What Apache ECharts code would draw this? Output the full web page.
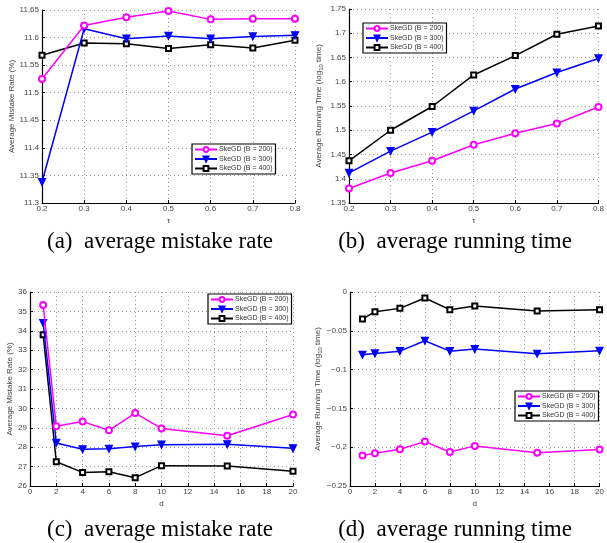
<!DOCTYPE html>
<html>
<head>
<meta charset="utf-8">
<script src="https://cdn.jsdelivr.net/npm/echarts@6/dist/echarts.min.js"></script>
<style>
html,body{margin:0;padding:0;background:#fff;}
#c{width:607px;height:543px;}
</style>
</head>
<body>
<div id="c"></div>
<script>
// ---- data ----
var seriesNames = ['SkeGD (B = 200)', 'SkeGD (B = 300)', 'SkeGD (B = 400)'];
var tauValues = [0.2, 0.3, 0.4, 0.5, 0.6, 0.7, 0.8];
var dValues = [1, 2, 4, 6, 8, 10, 15, 20];

// (a) average mistake rate vs tau
var mistakeTauB200 = [11.525, 11.622, 11.637, 11.648, 11.633, 11.634, 11.634];
var mistakeTauB300 = [11.338, 11.616, 11.598, 11.603, 11.598, 11.602, 11.604];
var mistakeTauB400 = [11.568, 11.590, 11.589, 11.580, 11.587, 11.581, 11.595];

// (b) average running time vs tau
var timeTauB200 = [1.380, 1.412, 1.437, 1.470, 1.494, 1.514, 1.548];
var timeTauB300 = [1.412, 1.457, 1.496, 1.540, 1.585, 1.619, 1.648];
var timeTauB400 = [1.437, 1.500, 1.549, 1.614, 1.654, 1.698, 1.715];

// (c) average mistake rate vs d
var mistakeDB200 = [35.33, 29.08, 29.32, 28.87, 29.76, 28.97, 28.59, 29.69];
var mistakeDB300 = [34.40, 28.22, 27.89, 27.92, 28.03, 28.13, 28.15, 27.94];
var mistakeDB400 = [33.80, 27.25, 26.70, 26.74, 26.43, 27.05, 27.03, 26.76];

// (d) average running time vs d
var timeDB200 = [-0.2108, -0.2078, -0.2027, -0.1928, -0.2061, -0.1983, -0.2070, -0.2031];
var timeDB300 = [-0.0809, -0.0792, -0.0762, -0.0628, -0.0762, -0.0736, -0.0796, -0.0757];
var timeDB400 = [-0.0349, -0.0254, -0.0211, -0.0077, -0.0228, -0.0181, -0.0245, -0.0228];

var captions = ['(a)  average mistake rate', '(b)  average running time', '(c)  average mistake rate', '(d)  average running time'];
var yNames = ['Average Mistake Rate (%)', 'Average Running Time (log{s|10} time)', 'Average Mistake Rate (%)', 'Average Running Time (log{s|10} time)'];
var xNames = ['\u03c4', '\u03c4', 'd', 'd'];

// ---- chart ----
var chart = echarts.init(document.getElementById('c'), null, {renderer: 'canvas'});
var FONT = 'Liberation Sans, Arial, sans-serif';
var colors = ['#ff00ff', '#0000ff', '#000000'];

function zip(xs, ys) { return xs.map(function (x, i) { return [x, ys[i]]; }); }
function fmt(dec) {
  return function (v) { return String(+(+v).toFixed(dec)).replace('-', '\u2212'); };
}

var grids = [
  {left: 42, top: 10, width: 253, height: 193},
  {left: 349, top: 9, width: 255, height: 194},
  {left: 30, top: 292, width: 263, height: 194},
  {left: 350, top: 292, width: 250, height: 194}
];
var xRanges = [[0.2, 0.8, 0.1, 1], [0.2, 0.8, 0.1, 1], [0, 20, 2, 0], [0, 20, 2, 0]];
var yRanges = [[11.3, 11.65, 0.05, 2], [1.35, 1.75, 0.05, 2], [26, 36, 1, 0], [-0.25, 0, 0.05, 2]];
var yGaps = [25, 25, 16, 26];

var xAxes = [], yAxes = [];
for (var i = 0; i < 4; i++) {
  var common = {
    axisLine: {show: true, onZero: false, lineStyle: {color: '#000', width: 1.2}},
    axisTick: {show: true, inside: true, length: 3, lineStyle: {color: '#000'}},
    splitLine: {show: true, lineStyle: {color: '#999', type: [1, 3], width: 1}},
    nameTextStyle: {fontFamily: FONT, fontSize: 8, color: '#444'}
  };
  xAxes.push(Object.assign({}, common, {
    gridIndex: i, type: 'value', min: xRanges[i][0], max: xRanges[i][1], interval: xRanges[i][2],
    name: xNames[i], nameLocation: 'middle', nameGap: 14,
    axisLabel: {fontFamily: FONT, fontSize: 8, color: '#444', margin: 2, formatter: fmt(xRanges[i][3])}
  }));
  yAxes.push(Object.assign({}, common, {
    gridIndex: i, type: 'value', min: yRanges[i][0], max: yRanges[i][1], interval: yRanges[i][2],
    name: yNames[i], nameLocation: 'middle', nameGap: yGaps[i],
    nameTextStyle: {fontFamily: FONT, fontSize: 8, color: '#444',
      rich: {s: {fontFamily: FONT, fontSize: 6, color: '#444', verticalAlign: 'bottom', padding: [5, 0, 0, 0]}}},
    axisLabel: {fontFamily: FONT, fontSize: 8, color: '#444', margin: 3, formatter: fmt(yRanges[i][3])}
  }));
}

var panelData = [
  [tauValues, [mistakeTauB200, mistakeTauB300, mistakeTauB400]],
  [tauValues, [timeTauB200, timeTauB300, timeTauB400]],
  [dValues, [mistakeDB200, mistakeDB300, mistakeDB400]],
  [dValues, [timeDB200, timeDB300, timeDB400]]
];
var symbols = ['emptyCircle', 'triangle', 'emptyRect'];
var symSizes = [6, 7, 5];
var series = [];
panelData.forEach(function (p, gi) {
  p[1].forEach(function (vals, si) {
    series.push({
      type: 'line', name: seriesNames[si], xAxisIndex: gi, yAxisIndex: gi,
      data: zip(p[0], vals),
      symbol: symbols[si], symbolSize: symSizes[si], symbolRotate: si === 1 ? 180 : 0,
      showAllSymbol: true,
      color: colors[si],
      lineStyle: {color: colors[si], width: 1.5},
      itemStyle: {color: colors[si], borderColor: colors[si], borderWidth: 1.2},
      emphasis: {disabled: true},
      animation: false, z: 3 - si
    });
  });
});

var legendPos = [
  {left: 192, top: 144},
  {left: 363, top: 23},
  {left: 208, top: 294},
  {left: 515, top: 391}
];
var legends = legendPos.map(function (lp) {
  return {
    left: lp.left, top: lp.top, orient: 'vertical',
    data: seriesNames,
    backgroundColor: '#fff',
    borderColor: '#000', borderWidth: 1.2,
    padding: [2, 3, 2, 2],
    itemWidth: 22, itemHeight: 6, itemGap: 2.5,
    textStyle: {fontFamily: FONT, fontSize: 7, color: '#333', padding: [0, 0, 0, -3]},
    selectedMode: false
  };
});

var capCenters = [[160, 242], [455, 242], [160, 530], [455, 530]];
var graphics = captions.map(function (t, i) {
  return {
    type: 'text', x: capCenters[i][0], y: capCenters[i][1],
    style: {text: t, fill: '#000', font: '23px "Liberation Serif", "Times New Roman", serif',
      textAlign: 'center', textVerticalAlign: 'middle'}
  };
});

chart.setOption({
  animation: false,
  backgroundColor: '#fff',
  grid: grids,
  xAxis: xAxes,
  yAxis: yAxes,
  legend: legends,
  series: series,
  graphic: graphics
});
</script>
</body>
</html>
